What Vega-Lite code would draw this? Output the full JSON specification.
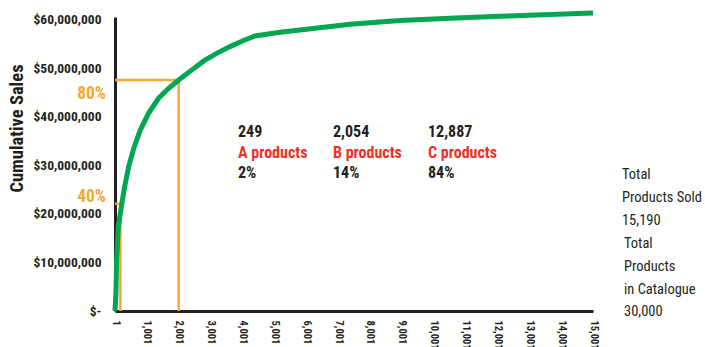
{
  "$schema": "https://vega.github.io/schema/vega-lite/v6.json",
  "width": 478,
  "height": 294,
  "autosize": "none",
  "padding": {"left": 115, "top": 17, "right": 112, "bottom": 36},
  "background": "white",
  "config": {
    "view": {"stroke": null},
    "font": "Roboto Condensed, DejaVu Sans Condensed, sans-serif",
    "axis": {"grid": false, "ticks": false, "domainColor": "#231F20", "domainWidth": 3, "labelColor": "#231F20", "labelFont": "Roboto Condensed, DejaVu Sans Condensed, sans-serif", "labelFontWeight": "bold", "labelOverlap": false},
    "axisX": {"labelOverlap": false, "labelBound": false, "labelFlush": false}
  },
  "datasets": {
    "curve": [
      {"units": 1, "sales": 0},
      {"units": 31, "sales": 3700000},
      {"units": 53, "sales": 10500000},
      {"units": 104, "sales": 17300000},
      {"units": 198, "sales": 21500000},
      {"units": 304, "sales": 25600000},
      {"units": 430, "sales": 29750000},
      {"units": 587, "sales": 33500000},
      {"units": 794, "sales": 37300000},
      {"units": 1058, "sales": 40800000},
      {"units": 1371, "sales": 43900000},
      {"units": 1685, "sales": 45900000},
      {"units": 1999, "sales": 47600000},
      {"units": 2416, "sales": 49700000},
      {"units": 2800, "sales": 51600000},
      {"units": 3191, "sales": 53100000},
      {"units": 3609, "sales": 54500000},
      {"units": 4017, "sales": 55700000},
      {"units": 4393, "sales": 56700000},
      {"units": 5178, "sales": 57450000},
      {"units": 5806, "sales": 57900000},
      {"units": 7375, "sales": 59100000},
      {"units": 8944, "sales": 59900000},
      {"units": 10513, "sales": 60350000},
      {"units": 12082, "sales": 60750000},
      {"units": 15000, "sales": 61400000}
    ],
    "guides": [
      {"pct": "80%", "units": 1999, "sales": 47600000, "labelSales": 43710000},
      {"pct": "40%", "units": 170, "sales": 22100000, "labelSales": 22470000}
    ],
    "stats": [
      {"text": "249", "role": "count", "units": 3860, "sales": 35940000},
      {"text": "A products", "role": "class", "units": 3860, "sales": 31610000},
      {"text": "2%", "role": "share", "units": 3860, "sales": 27360000},
      {"text": "2,054", "role": "count", "units": 6841, "sales": 35940000},
      {"text": "B products", "role": "class", "units": 6841, "sales": 31610000},
      {"text": "14%", "role": "share", "units": 6841, "sales": 27360000},
      {"text": "12,887", "role": "count", "units": 9822, "sales": 35940000},
      {"text": "C products", "role": "class", "units": 9822, "sales": 31610000},
      {"text": "84%", "role": "share", "units": 9822, "sales": 27360000}
    ],
    "totals": [
      {"text": "Total\nProducts Sold\n15,190", "units": 15910, "sales": 27150000},
      {"text": "Total\nProducts\nin Catalogue\n30,000", "units": 15973, "sales": 12930000}
    ]
  },
  "layer": [
    {
      "data": {"name": "guides"},
      "mark": {"type": "rule", "color": "#F5A933", "strokeWidth": 2.5},
      "encoding": {
        "x": {"field": "units", "type": "quantitative", "scale": {"domain": [1, 15001], "nice": false},
          "axis": {"values": [1, 1001, 2001, 3001, 4001, 5001, 6001, 7001, 8001, 9001, 10001, 11001, 12001, 13001, 14001, 15001], "tickCount": 20, "labelExpr": "format(datum.value, ',')", "labelAngle": 90, "labelFontSize": 10.5, "labelPadding": 9, "title": null, "labelOverlap": false, "labelBound": false, "labelFlush": false}},
        "x2": {"datum": 1},
        "y": {"field": "sales", "type": "quantitative", "scale": {"domain": [0, 60600000], "nice": false},
          "axis": {"values": [0, 10000000, 20000000, 30000000, 40000000, 50000000, 60000000], "tickCount": 10, "labelExpr": "datum.value == 0 ? '$-' : '$' + format(datum.value, ',')", "labelFontSize": 13.5, "labelPadding": 14, "title": "Cumulative Sales", "titleFont": "Roboto Condensed, DejaVu Sans Condensed, sans-serif", "titleFontSize": 18.5, "titleFontWeight": "bold", "titleColor": "#231F20", "titleAngle": -90, "titleX": -99, "titleY": 111, "titleAlign": "center", "titleBaseline": "middle"}}
      }
    },
    {
      "data": {"name": "guides"},
      "mark": {"type": "rule", "color": "#F5A933", "strokeWidth": 2.5},
      "encoding": {
        "x": {"field": "units", "type": "quantitative"},
        "y": {"field": "sales", "type": "quantitative"},
        "y2": {"datum": 0}
      }
    },
    {
      "data": {"name": "guides"},
      "mark": {"type": "text", "align": "right", "baseline": "alphabetic", "dx": -9, "fontSize": 17.5, "fontWeight": "bold", "color": "#F5A933", "font": "Roboto Condensed, DejaVu Sans Condensed, sans-serif"},
      "encoding": {
        "x": {"datum": 1, "type": "quantitative"},
        "y": {"field": "labelSales", "type": "quantitative"},
        "text": {"field": "pct"}
      }
    },
    {
      "data": {"name": "curve"},
      "mark": {"type": "line", "color": "#00A650", "strokeWidth": 5, "interpolate": "linear", "clip": false},
      "encoding": {
        "x": {"field": "units", "type": "quantitative"},
        "y": {"field": "sales", "type": "quantitative"}
      }
    },
    {
      "data": {"name": "stats"},
      "mark": {"type": "text", "align": "left", "baseline": "alphabetic", "fontSize": 16, "fontWeight": "bold", "font": "Roboto Condensed, DejaVu Sans Condensed, sans-serif"},
      "encoding": {
        "x": {"field": "units", "type": "quantitative"},
        "y": {"field": "sales", "type": "quantitative"},
        "text": {"field": "text"},
        "color": {"field": "role", "type": "nominal", "scale": {"domain": ["count", "class", "share"], "range": ["#231F20", "#EE3124", "#231F20"]}, "legend": null}
      }
    },
    {
      "data": {"name": "totals"},
      "mark": {"type": "text", "align": "left", "baseline": "alphabetic", "fontSize": 14.5, "lineBreak": "\n", "lineHeight": 22.7, "color": "#231F20", "font": "Roboto Condensed, DejaVu Sans Condensed, sans-serif"},
      "encoding": {
        "x": {"field": "units", "type": "quantitative"},
        "y": {"field": "sales", "type": "quantitative"},
        "text": {"field": "text"}
      }
    }
  ]
}
